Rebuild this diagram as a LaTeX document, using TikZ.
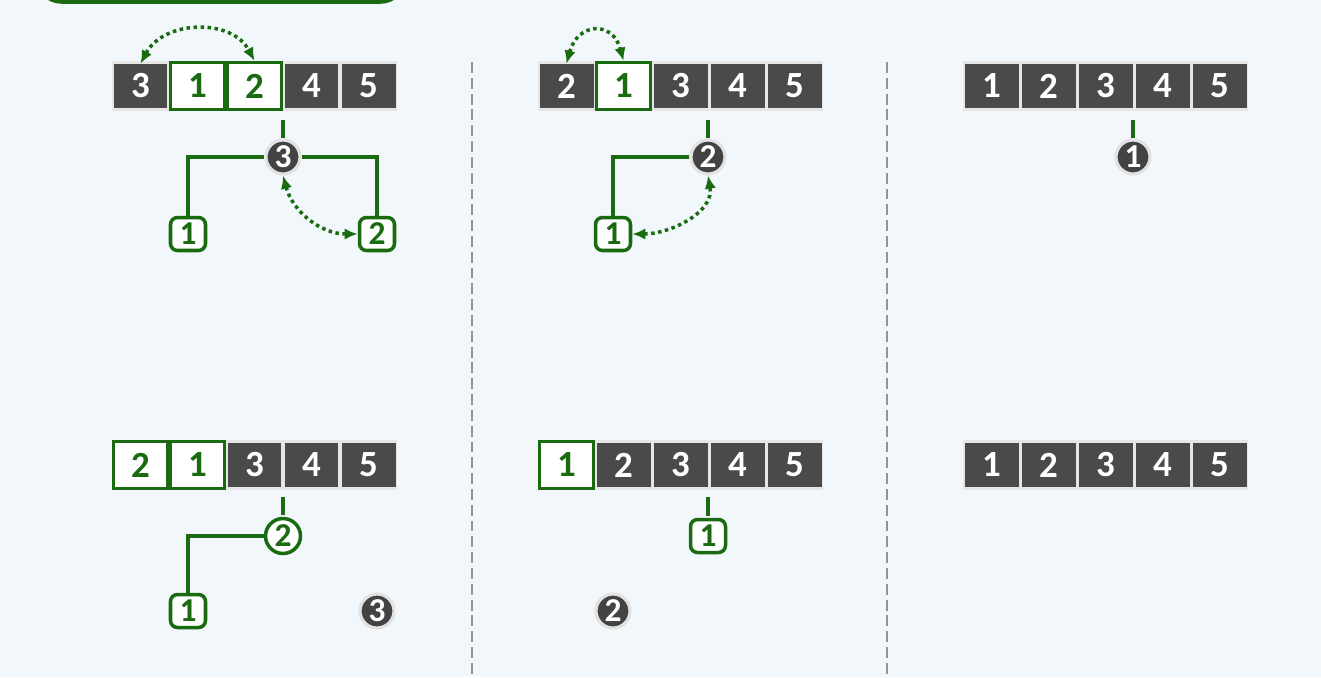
\documentclass[tikz,border=0pt]{standalone}
\usepackage{fontspec}
\setmainfont{Carlito}
\usetikzlibrary{arrows.meta}

\definecolor{bggray}{RGB}{242,247,251}
\definecolor{treegreen}{RGB}{26,106,16}
\definecolor{cellgray}{RGB}{74,74,74}
\definecolor{stripgray}{RGB}{230,230,230}
\definecolor{halogray}{RGB}{226,226,226}
\definecolor{dotgray}{RGB}{67,67,67}

\tikzset{
  cell/.style={fill=cellgray, text=white, minimum width=1.08cm, minimum height=0.88cm,
    inner sep=0pt, font=\fontsize{21}{24}\selectfont\bfseries},
  hcell/.style={fill=white, draw=treegreen, line width=1.9pt, text=treegreen,
    minimum width=1.08cm, minimum height=0.94cm, inner sep=0pt,
    font=\fontsize{21}{24}\selectfont\bfseries},
  strip/.style={fill=stripgray},
  dot/.style={circle, fill=dotgray, draw=halogray, line width=1.8pt, text=white,
    minimum size=0.68cm, inner sep=0pt, font=\fontsize{19}{22}\selectfont\bfseries},
  hdot/.style={circle, fill=white, draw=treegreen, line width=2pt, text=treegreen,
    minimum size=0.7cm, inner sep=0pt, font=\fontsize{19}{22}\selectfont\bfseries},
  leaf/.style={rounded corners=4pt, fill=white, draw=treegreen, line width=2pt,
    text=treegreen, minimum width=0.7cm, minimum height=0.66cm, inner sep=0pt,
    font=\fontsize{19}{22}\selectfont\bfseries},
  link/.style={draw=treegreen, line width=2pt},
  swaparrow/.style={draw=treegreen, line width=2pt, dash pattern=on 2pt off 2pt,
    {Latex[length=7.5pt,width=6.5pt]}-{Latex[length=7.5pt,width=6.5pt]}},
  divider/.style={draw=gray!85, line width=0.9pt, dash pattern=on 6.2pt off 2.8pt}
}

\begin{document}
\begin{tikzpicture}[x=0.02cm, y=-0.02cm]

\useasboundingbox (0,0) rectangle (1321,677);
\fill[bggray] (0,0) rectangle (1321,677);
\clip (0,0) rectangle (1321,677);

% title box, cut off at the top
\draw[treegreen, line width=2pt, rounded corners=14pt] (37,-40) rectangle (405,2);

% dividers
\draw[divider] (472,62) -- (472,677);
\draw[divider] (887,62) -- (887,677);

% ---- top row ----
\fill[strip] (112,61) rectangle +(285,50);
\foreach \v/\s [count=\i] in {3/cell,1/hcell,2/hcell,4/cell,5/cell}
    \node[\s] (p1c\i) at ({140.5+57*(\i-1)},86) {\v};

\fill[strip] (538,61) rectangle +(285,50);
\foreach \v/\s [count=\i] in {2/cell,1/hcell,3/cell,4/cell,5/cell}
    \node[\s] (p2c\i) at ({566.5+57*(\i-1)},86) {\v};

\fill[strip] (963,61) rectangle +(285,50);
\foreach \v/\s [count=\i] in {1/cell,2/cell,3/cell,4/cell,5/cell}
    \node[\s] (p3c\i) at ({991.5+57*(\i-1)},86) {\v};

% first heap
\coordinate (p1ta) at (283,120);
\coordinate (p1tb) at (283,138);
\node[dot]  (p1r)  at (283,157) {3};
\node[leaf] (p1l1) at (188,234) {1};
\node[leaf] (p1l2) at (377,234) {2};
\draw[link] (p1ta) -- (p1tb);
\draw[link] (p1r.west) -| (p1l1.north);
\draw[link] (p1r.east) -| (p1l2.north);
\draw[swaparrow] (p1c1.north) to[out=62,in=118,looseness=1.1] (p1c3.north);
\draw[swaparrow] (p1r.south) to[out=-75,in=180] (p1l2.west);

% second heap
\coordinate (p2ta) at (708,120);
\coordinate (p2tb) at (708,138);
\node[dot]  (p2r)  at (708,157) {2};
\node[leaf] (p2l1) at (613,234) {1};
\draw[link] (p2ta) -- (p2tb);
\draw[link] (p2r.west) -| (p2l1.north);
\draw[swaparrow] (p2c1.north) to[out=75,in=105,looseness=1.9] (p2c2.north);
\draw[swaparrow] (p2l1.east) to[out=0,in=-80] (p2r.south);

% third heap
\coordinate (p3ta) at (1133,120);
\coordinate (p3tb) at (1133,138);
\node[dot] (p3r) at (1133,157) {1};
\draw[link] (p3ta) -- (p3tb);

% ---- bottom row ----
\fill[strip] (112,440) rectangle +(285,50);
\foreach \v/\s [count=\i] in {2/hcell,1/hcell,3/cell,4/cell,5/cell}
    \node[\s] (q1c\i) at ({140.5+57*(\i-1)},465) {\v};

\fill[strip] (538,440) rectangle +(285,50);
\foreach \v/\s [count=\i] in {1/hcell,2/cell,3/cell,4/cell,5/cell}
    \node[\s] (q2c\i) at ({566.5+57*(\i-1)},465) {\v};

\fill[strip] (963,440) rectangle +(285,50);
\foreach \v/\s [count=\i] in {1/cell,2/cell,3/cell,4/cell,5/cell}
    \node[\s] (q3c\i) at ({991.5+57*(\i-1)},465) {\v};

% heap after first swap
\coordinate (q1ta) at (283,497);
\coordinate (q1tb) at (283,515);
\node[hdot] (q1r)  at (283,536) {2};
\node[leaf] (q1l1) at (188,611) {1};
\node[dot]  (q1x)  at (377,611) {3};
\draw[link] (q1ta) -- (q1tb);
\draw[link] (q1r.west) -| (q1l1.north);

% heap after second swap
\coordinate (q2ta) at (708,497);
\coordinate (q2tb) at (708,516);
\node[leaf] (q2r) at (708,536) {1};
\node[dot]  (q2x) at (613,611) {2};
\draw[link] (q2ta) -- (q2tb);

\end{tikzpicture}
\end{document}
